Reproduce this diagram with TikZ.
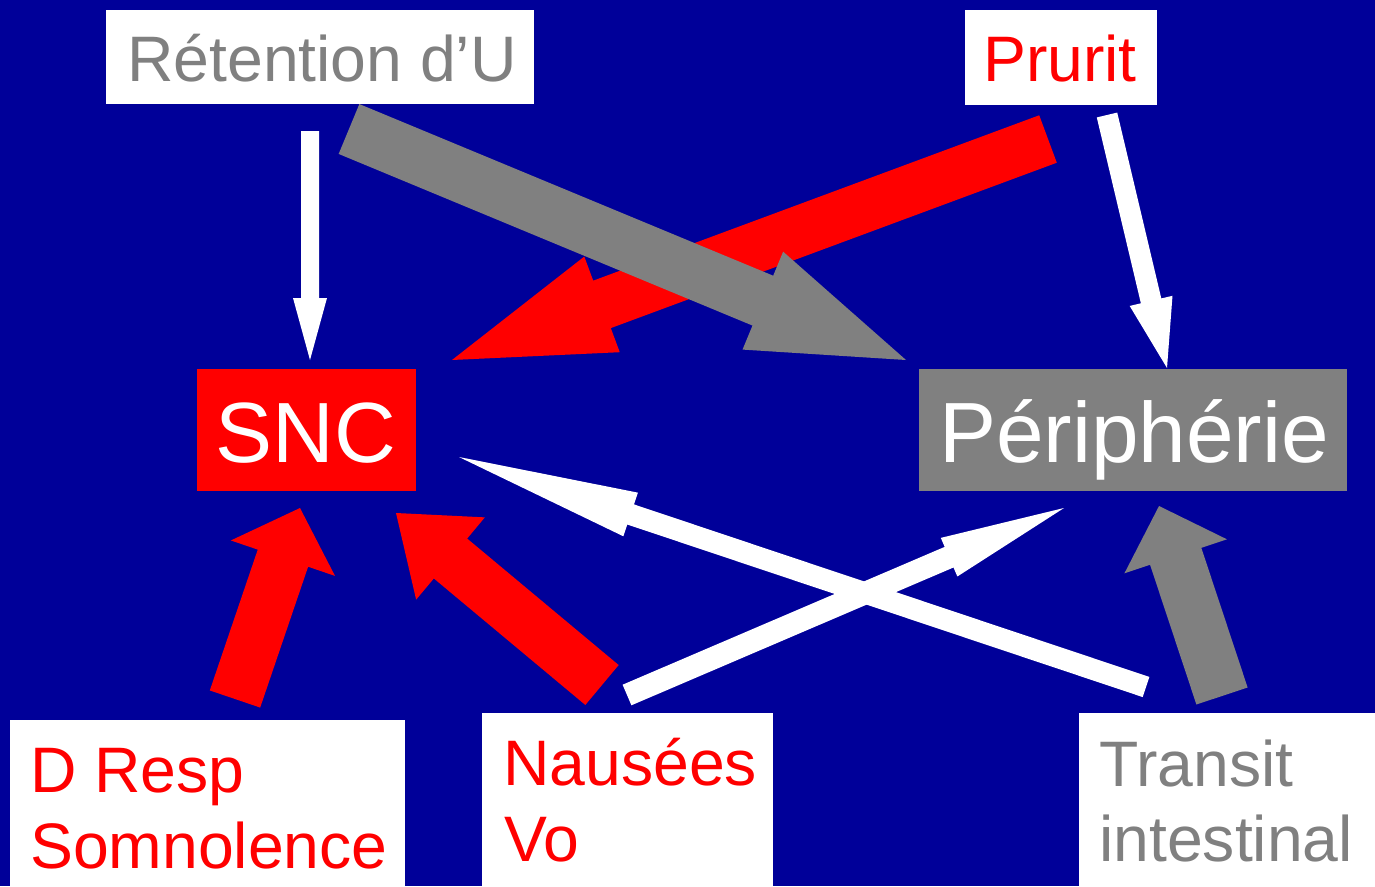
\documentclass[tikz,border=0pt]{standalone}
\usepackage{fontspec}
\setmainfont{Liberation Sans}
\usetikzlibrary{calc}
\definecolor{bg}{RGB}{0,0,153}
\definecolor{gr}{RGB}{128,128,128}
\definecolor{rd}{RGB}{255,0,0}
% block arrow: colour, start, tip, shaft half-width, head half-width, head length
\newcommand\barrow[6]{%
  \coordinate (hb) at ($(#3)!#6pt!(#2)$);
  \fill[#1] ($(#2)!#4pt!90:(#3)$) -- ($(hb)!#4pt!90:(#3)$) -- ($(hb)!#5pt!90:(#3)$)
    -- (#3) -- ($(hb)!#5pt!-90:(#3)$) -- ($(hb)!#4pt!-90:(#3)$) -- ($(#2)!#4pt!-90:(#3)$) -- cycle;}
\tikzset{
  box/.style={inner sep=0pt, outer sep=0pt, anchor=north west},
  small/.style={inner sep=0pt, anchor=base west, font=\fontsize{64.3}{76}\selectfont},
  big/.style={inner sep=0pt, anchor=base, font=\fontsize{85.5}{100}\selectfont, text=white},
}
\begin{document}
\begin{tikzpicture}[x=1pt,y=-1pt]
\useasboundingbox (0,0) rectangle (1375,886);
\fill[bg] (0,0) rectangle (1375,886);
% boxes
\node[box, fill=white, minimum width=428pt, minimum height=94pt] (ret) at (106,10) {};
\node[box, fill=white, minimum width=192pt, minimum height=95pt] (pru) at (965,10) {};
\node[box, fill=rd, minimum width=219pt, minimum height=122pt] (snc) at (197,369) {};
\node[box, fill=gr, minimum width=428pt, minimum height=122pt] (per) at (919,369) {};
\node[box, fill=white, minimum width=395pt, minimum height=166pt] (dre) at (10,720) {};
\node[box, fill=white, minimum width=291pt, minimum height=173pt] (nau) at (482,713) {};
\node[box, fill=white, minimum width=296pt, minimum height=173pt] (tra) at (1079,713) {};
% texts
\node[small, text=gr] (retT) at (127,81) {Rétention d’U};
\node[small, text=rd] (pruT) at (983,81) {Prurit};
\node[big] (sncT) at (306,462) {SNC};
\node[big] (perT) at (1134,462) {Périphérie};
\node[small, text=rd] (dreT1) at (30,792) {D Resp};
\node[small, text=rd] (dreT2) at (30,868) {Somnolence};
\node[small, text=rd] (nauT1) at (503,785) {Nausées};
\node[small, text=rd] (nauT2) at (504,861) {Vo};
\node[small, text=gr] (traT1) at (1099,786) {Transit};
\node[small, text=gr] (traT2) at (1099,861) {intestinal};
% arrow ends
\coordinate (a1s) at (310,131);  \coordinate (a1t) at (310,360);
\coordinate (a2s) at (349,129);  \coordinate (a2t) at (906,360);
\coordinate (a3s) at (1048,139); \coordinate (a3t) at (452,360);
\coordinate (a4s) at (1107,115); \coordinate (a4t) at (1167,368);
\coordinate (a5s) at (235,699);  \coordinate (a5t) at (300,508);
\coordinate (a6s) at (602,685);  \coordinate (a6t) at (396,513);
\coordinate (a7s) at (627,695);  \coordinate (a7t) at (1064,508);
\coordinate (a8s) at (1146,687); \coordinate (a8t) at (459,457);
\coordinate (a9s) at (1222,696); \coordinate (a9t) at (1159,506);
% arrows
\barrow{white}{a1s}{a1t}{9}{17}{62}
\barrow{rd}{a3s}{a3t}{25.3}{51}{160}
\barrow{gr}{a2s}{a2t}{27}{53}{155}
\barrow{white}{a4s}{a4t}{10.5}{22}{69}
\barrow{rd}{a5s}{a5t}{26.6}{55}{53}
\barrow{rd}{a6s}{a6t}{26}{53.6}{71}
\barrow{white}{a7s}{a7t}{11.2}{21}{125}
\barrow{white}{a8s}{a8t}{10.6}{23}{181}
\barrow{gr}{a9s}{a9t}{27}{54}{53}
\end{tikzpicture}
\end{document}
